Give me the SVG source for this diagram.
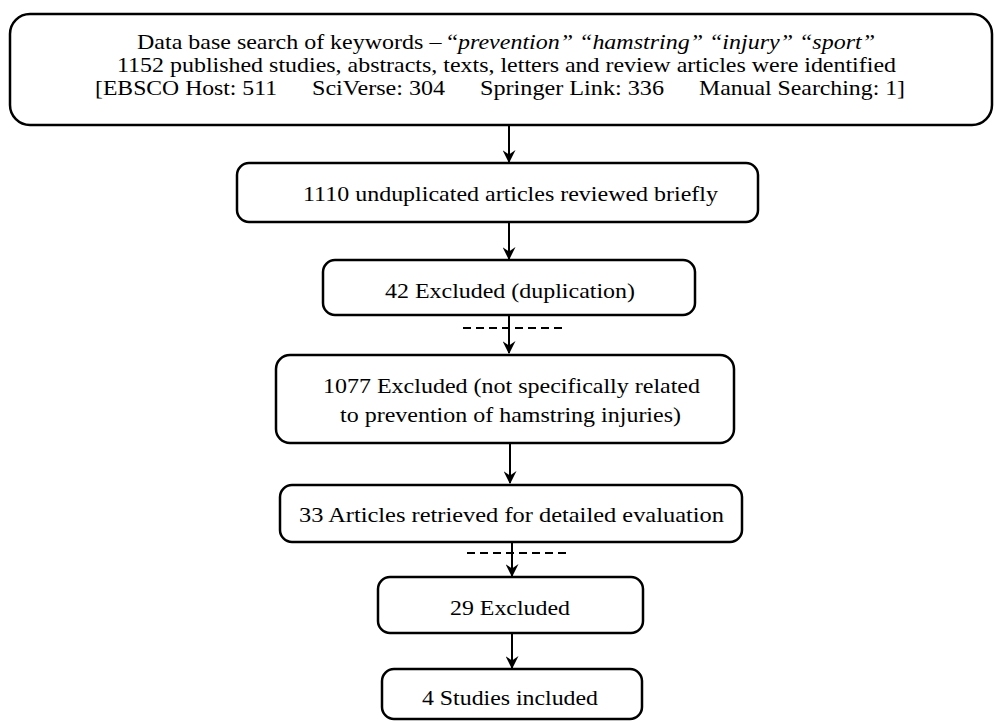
<svg xmlns="http://www.w3.org/2000/svg" width="994" height="721" viewBox="0 0 994 721">
<defs>
<marker id="ah" viewBox="0 0 12 12" refX="11" refY="6" markerWidth="13" markerHeight="13" markerUnits="userSpaceOnUse" orient="auto">
<path d="M0,0 L12,6 L0,12 L4,6 Z" fill="#000"/>
</marker>
</defs>
<style>
.box{fill:#fff;stroke:#000;stroke-width:2.5}
.t{font-family:"Liberation Serif","Times New Roman",serif;font-size:22px;fill:#000;text-anchor:start}
.c{stroke:#000;stroke-width:2;fill:none}
.d{stroke:#000;stroke-width:2;stroke-dasharray:8,5;fill:none}
</style>
<rect width="994" height="721" fill="#fff"/>
<g id="connectors">
<line class="c" x1="509" y1="125" x2="509" y2="162" marker-end="url(#ah)"/>
<line class="c" x1="509" y1="222" x2="509" y2="259" marker-end="url(#ah)"/>
<line class="c" x1="509" y1="315" x2="509" y2="353" marker-end="url(#ah)"/>
<line class="d" x1="463" y1="328" x2="566" y2="328"/>
<line class="c" x1="510" y1="443" x2="510" y2="483" marker-end="url(#ah)"/>
<line class="c" x1="512" y1="542" x2="512" y2="576" marker-end="url(#ah)"/>
<line class="d" x1="467" y1="553" x2="569" y2="553"/>
<line class="c" x1="512" y1="633" x2="512" y2="668" marker-end="url(#ah)"/>
</g>
<g id="n1">
<rect class="box" x="10" y="14" width="982" height="111" rx="20"/>
<text class="t" x="137" y="49" textLength="738" lengthAdjust="spacingAndGlyphs">Data base search of keywords – “<tspan font-style="italic">prevention” “hamstring” “injury” “sport”</tspan></text>
<text class="t" x="117" y="72" textLength="779" lengthAdjust="spacingAndGlyphs">1152 published studies, abstracts, texts, letters and review articles were identified</text>
<text class="t" x="95" y="95" textLength="182" lengthAdjust="spacingAndGlyphs">[EBSCO Host: 511</text>
<text class="t" x="312" y="95" textLength="133" lengthAdjust="spacingAndGlyphs">SciVerse: 304</text>
<text class="t" x="480" y="95" textLength="184" lengthAdjust="spacingAndGlyphs">Springer Link: 336</text>
<text class="t" x="699" y="95" textLength="206" lengthAdjust="spacingAndGlyphs">Manual Searching: 1]</text>
</g>
<g id="n2">
<rect class="box" x="237" y="163" width="521" height="59" rx="12"/>
<text class="t" x="303" y="201" textLength="415" lengthAdjust="spacingAndGlyphs">1110 unduplicated articles reviewed briefly</text>
</g>
<g id="n3">
<rect class="box" x="323" y="260" width="372" height="55" rx="12"/>
<text class="t" x="385" y="298" textLength="250" lengthAdjust="spacingAndGlyphs">42 Excluded (duplication)</text>
</g>
<g id="n4">
<rect class="box" x="276" y="355" width="458" height="88" rx="14"/>
<text class="t" x="323" y="393" textLength="377" lengthAdjust="spacingAndGlyphs">1077 Excluded (not specifically related</text>
<text class="t" x="340" y="422" textLength="341" lengthAdjust="spacingAndGlyphs">to prevention of hamstring injuries)</text>
</g>
<g id="n5">
<rect class="box" x="280" y="485" width="462" height="57" rx="12"/>
<text class="t" x="299" y="522" textLength="425" lengthAdjust="spacingAndGlyphs">33 Articles retrieved for detailed evaluation</text>
</g>
<g id="n6">
<rect class="box" x="378" y="577" width="265" height="56" rx="12"/>
<text class="t" x="450" y="615" textLength="120" lengthAdjust="spacingAndGlyphs">29 Excluded</text>
</g>
<g id="n7">
<rect class="box" x="382" y="669" width="260" height="50" rx="12"/>
<text class="t" x="422" y="705" textLength="176" lengthAdjust="spacingAndGlyphs">4 Studies included</text>
</g>
</svg>
